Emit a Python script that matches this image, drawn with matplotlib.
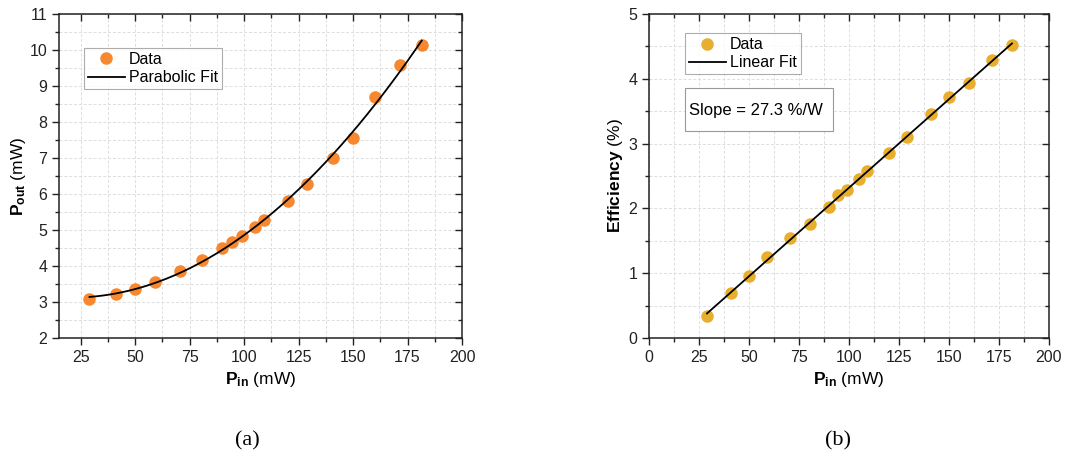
import numpy as np
import matplotlib.pyplot as plt
from matplotlib.ticker import MultipleLocator
from matplotlib.patches import Rectangle

plt.rcParams['font.family'] = ['Liberation Sans', 'DejaVu Sans']
plt.rcParams['mathtext.fontset'] = 'custom'
plt.rcParams['mathtext.rm'] = 'Liberation Sans'
plt.rcParams['mathtext.bf'] = 'Liberation Sans:bold'

# Data
p_in = [29, 41, 50, 59, 70.5, 80.5, 90, 94.5, 99, 105, 109, 120, 129, 141, 150, 160, 171.5, 181.5]
p_out = [3.08, 3.23, 3.36, 3.55, 3.85, 4.17, 4.50, 4.67, 4.82, 5.08, 5.27, 5.80, 6.27,
         7.00, 7.56, 8.70, 9.58, 10.15]
efficiency = [0.34, 0.70, 0.96, 1.25, 1.54, 1.76, 2.02, 2.20, 2.28, 2.45, 2.57, 2.85,
              3.10, 3.45, 3.72, 3.94, 4.29, 4.52]
slope_text = 'Slope = 27.3 %/W'

orange = '#F7882F'
gold = '#E8AE2E'

fig = plt.figure(figsize=(10.65, 4.66), dpi=100)
ax1 = fig.add_axes([59 / 1065, 1 - 338 / 466, (462 - 59) / 1065, (338 - 14) / 466])
ax2 = fig.add_axes([649 / 1065, 1 - 338 / 466, (1049 - 649) / 1065, (338 - 14) / 466])


def style_axes(ax):
    ax.grid(True, which='both', color='#dddddd', linestyle=(0, (3, 2)), linewidth=0.7)
    ax.set_axisbelow(True)
    ax.tick_params(which='both', direction='out', labelsize=11.5, width=1, colors='#222222')
    ax.tick_params(which='major', length=5)
    ax.tick_params(which='minor', length=3)
    ax.tick_params(which='both', top=True, right=True)
    for s in ax.spines.values():
        s.set_linewidth(1.1)
        s.set_color('#222222')
    # top/right ticks point inward
    for t in ax.xaxis.get_major_ticks() + ax.xaxis.get_minor_ticks():
        t.tick2line.set_marker(3)
    for t in ax.yaxis.get_major_ticks() + ax.yaxis.get_minor_ticks():
        t.tick2line.set_marker(0)


def add_legend(ax, x0, y0):
    leg = ax.legend(loc='upper left', bbox_to_anchor=(x0, y0), fontsize=11.5, frameon=True,
                    fancybox=False, edgecolor='#999999', handlelength=2.3, borderpad=0.25,
                    labelspacing=0.2, handletextpad=0.25, borderaxespad=0)
    leg.get_frame().set_linewidth(0.8)
    return leg


x = np.array(p_in)
xf = np.linspace(min(p_in), max(p_in), 200)

# (a) output power
c2 = np.polyfit(x, p_out, 2)
ax1.plot(x, p_out, 'o', color=orange, markersize=8, label='Data', zorder=3)
ax1.plot(xf, np.polyval(c2, xf), color='black', linewidth=1.3, label='Parabolic Fit', zorder=4)
ax1.set_xlim(15, 200)
ax1.set_ylim(2, 11)
ax1.xaxis.set_major_locator(MultipleLocator(25))
ax1.xaxis.set_minor_locator(MultipleLocator(12.5))
ax1.yaxis.set_major_locator(MultipleLocator(1))
ax1.yaxis.set_minor_locator(MultipleLocator(0.5))
ax1.set_xlabel(r'$\mathbf{P_{in}}$ (mW)', fontsize=12.5, labelpad=4)
ax1.set_ylabel(r'$\mathbf{P_{out}}$ (mW)', fontsize=12.5, labelpad=1)
style_axes(ax1)
add_legend(ax1, 0.062, 0.895)

# (b) efficiency
c1 = np.polyfit(x, efficiency, 1)
ax2.plot(x, efficiency, 'o', color=gold, markersize=8, label='Data', zorder=3)
ax2.plot(xf, np.polyval(c1, xf), color='black', linewidth=1.3, label='Linear Fit', zorder=4)
ax2.set_xlim(0, 200)
ax2.set_ylim(0, 5)
ax2.xaxis.set_major_locator(MultipleLocator(25))
ax2.xaxis.set_minor_locator(MultipleLocator(12.5))
ax2.yaxis.set_major_locator(MultipleLocator(1))
ax2.yaxis.set_minor_locator(MultipleLocator(0.5))
ax2.set_xlabel(r'$\mathbf{P_{in}}$ (mW)', fontsize=12.5, labelpad=4)
ax2.set_ylabel(r'$\mathbf{Efficiency}$ (%)', fontsize=12.5, labelpad=2)
style_axes(ax2)
add_legend(ax2, 0.09, 0.941)
ax2.add_patch(Rectangle((0.09, 0.639), 0.37, 0.133, transform=ax2.transAxes, facecolor='white',
                        edgecolor='#999999', linewidth=0.8, zorder=5))
ax2.text(0.1, 0.703, slope_text, transform=ax2.transAxes, fontsize=12, va='center', ha='left',
         zorder=6)

fig.text(247 / 1065, 1 - 441 / 466, '(a)', fontsize=16, family='Liberation Serif', ha='center', va='center')
fig.text(838 / 1065, 1 - 441 / 466, '(b)', fontsize=16, family='Liberation Serif', ha='center', va='center')

fig.savefig('out.png', dpi=100)
